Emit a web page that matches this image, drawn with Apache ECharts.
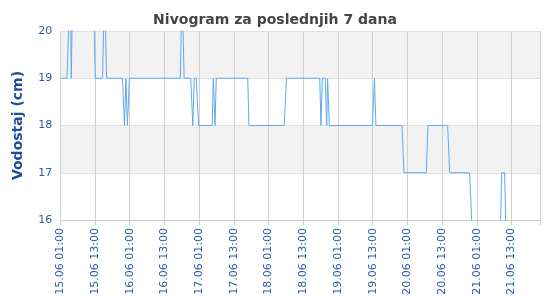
<!DOCTYPE html>
<html>
<head>
<meta charset="utf-8">
<script src="https://cdn.jsdelivr.net/npm/echarts@6/dist/echarts.min.js"></script>
<style>html,body{margin:0;padding:0;background:#fff}#c{width:550px;height:300px}</style>
</head>
<body>
<div id="c"></div>
<script>
// hours since 15.06 01:00
const hours = [0, 2.3, 3.4, 3.8, 4.3, 11.3, 12.1, 14.6, 15.3, 15.5, 16.0, 21.5, 22.2, 22.7, 23.2, 23.9,
  41.5, 42.1, 42.8, 45.1, 45.8, 46.3, 47.0, 47.8, 52.5, 52.9, 53.5, 53.9, 64.8, 65.2, 77.4, 78.2,
  89.7, 90.1, 90.6, 91.6, 92.1, 92.4, 93.0, 107.9, 108.6, 109.1, 118.1, 118.8, 126.5, 127.1,
  133.9, 134.6, 141.5, 142.9, 151.8, 152.6, 153.6, 154.3, 166];
const levels = [19, 19, 21, 19, 21, 21, 19, 19, 21, 21, 19, 19, 18, 19, 18, 19,
  19, 21, 19, 19, 18, 19, 19, 18, 18, 19, 18, 19, 19, 18, 18, 19,
  19, 18, 19, 19, 18, 19, 18, 18, 19, 18, 18, 17, 17, 18,
  18, 17, 17, 15, 15, 17, 17, 15, 15];
const tickLabels = ['15.06 01:00', '15.06 13:00', '16.06 01:00', '16.06 13:00', '17.06 01:00',
  '17.06 13:00', '18.06 01:00', '18.06 13:00', '19.06 01:00', '19.06 13:00', '20.06 01:00',
  '20.06 13:00', '21.06 01:00', '21.06 13:00'];
const yTicks = [16, 17, 18, 19, 20];

const data = hours.map((h, i) => [h, levels[i]]);
const font = 'DejaVu Sans';
const chart = echarts.init(document.getElementById('c'), null, {renderer: 'canvas'});
chart.setOption({
  animation: false,
  title: {
    text: 'Nivogram za poslednjih 7 dana',
    left: 'center', top: 8,
    textStyle: {fontFamily: font, fontSize: 14, fontWeight: 'bold', color: '#444'}
  },
  grid: {left: 60.3, right: 9.5, top: 31, bottom: 80, containLabel: false},
  xAxis: {
    type: 'value', min: 0, max: 166, interval: 12,
    axisLine: {show: true, lineStyle: {color: '#ccc'}},
    axisTick: {show: true, length: 5, lineStyle: {color: '#ccc'}},
    splitLine: {show: true, lineStyle: {color: '#d0d0d0', width: 1}},
    axisLabel: {
      rotate: 90, margin: 8, color: '#2a5ca8', fontFamily: font, fontSize: 11,
      formatter: v => (v % 12 === 0 ? (tickLabels[v / 12] || '') : '')
    }
  },
  yAxis: {
    type: 'value', min: yTicks[0], max: yTicks[yTicks.length - 1], interval: 1,
    name: 'Vodostaj (cm)', nameLocation: 'middle', nameGap: 35, nameRotate: 90,
    nameTextStyle: {fontFamily: font, fontSize: 14, fontWeight: 'bold', color: '#1f4e9c'},
    axisLine: {show: false}, axisTick: {show: false},
    splitLine: {show: true, lineStyle: {color: '#e0e0e0', width: 1}},
    splitArea: {show: true, areaStyle: {color: ['#ffffff', '#f2f2f2']}},
    axisLabel: {margin: 8, color: '#2a5ca8', fontFamily: font, fontSize: 11}
  },
  series: [{
    type: 'line', data: data, showSymbol: false, clip: true,
    lineStyle: {color: '#62a8f0', width: 1}, itemStyle: {color: '#62a8f0'}
  }]
});
</script>
</body>
</html>
